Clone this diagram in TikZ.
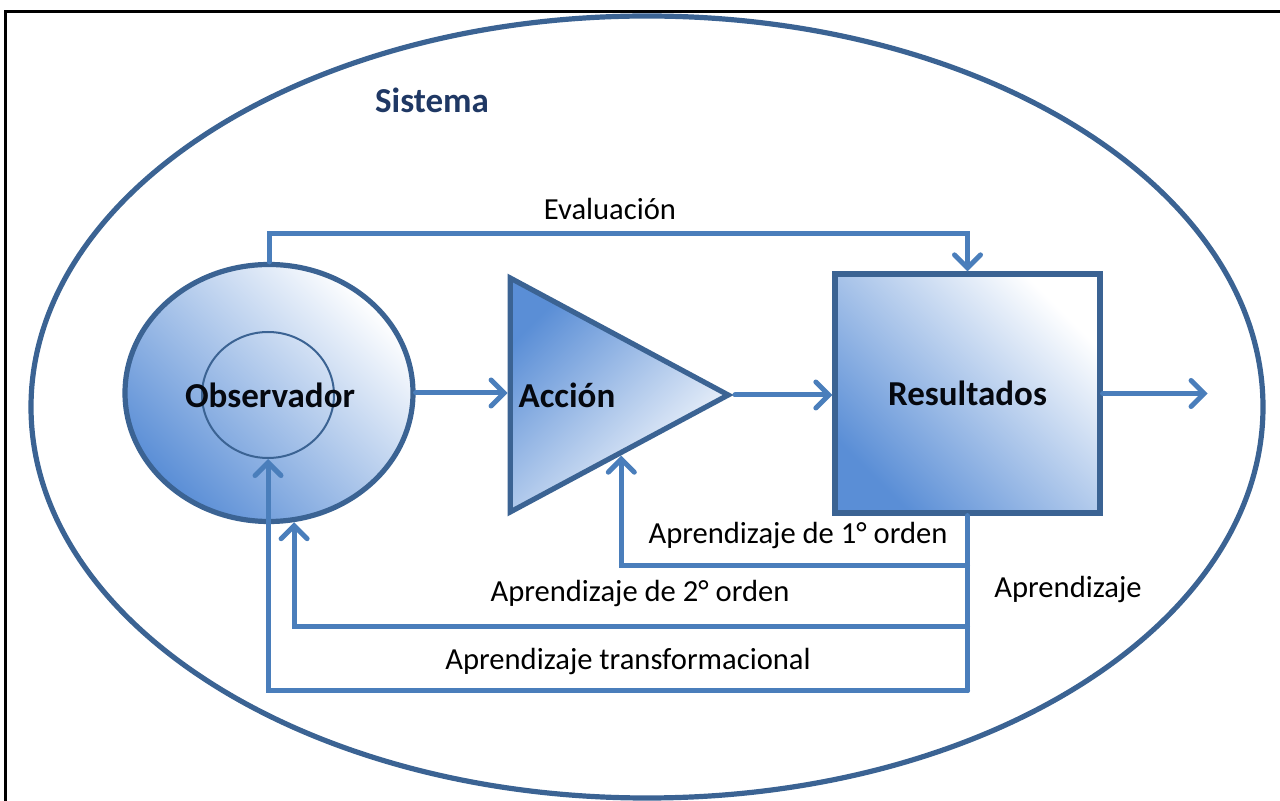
\documentclass[tikz,border=0pt]{standalone}
\usepackage{fontspec}
\setmainfont{Carlito}
\usepackage{xcolor}
\usepackage{tikz}
\usetikzlibrary{shapes.geometric, arrows.meta, positioning, calc}

\definecolor{rimblue}{HTML}{3B6393}
\definecolor{linkblue}{HTML}{4A7EBB}
\definecolor{shadeblue}{HTML}{5A8ED6}
\definecolor{inkblue}{HTML}{1F3864}

\begin{document}
\begin{tikzpicture}[
    x=0.5pt, y=-0.5pt,
    shapebox/.style={draw=rimblue, line width=2.6pt, bottom color=shadeblue, top color=white},
    lbl/.style={font=\fontsize{15.3}{18}\selectfont, inner sep=0pt},
    boldlbl/.style={font=\bfseries\fontsize{17.5}{21}\selectfont, text=black!85!inkblue, inner sep=0pt},
    conn/.style={draw=linkblue, line width=2.5pt, line cap=round},
    arr/.style={conn, -{Straight Barb[length=6.5pt, width=13pt, line cap=round]}},
]
\useasboundingbox (0,0) rectangle (1280,801);
\draw[line width=1.5pt] (5,801) -- (5,12) -- (1280,12);

\node[draw=rimblue, line width=2.6pt, ellipse, minimum width=616pt, minimum height=391pt] (sistema) at (647,407) {};
\node[boldlbl, text=inkblue] (sistema-lbl) at (432,100) {Sistema};

\node[shapebox, shading angle=-45, ellipse, minimum width=144pt, minimum height=128.5pt] (obs) at (269,393) {};
\node[draw=rimblue, line width=1pt, ellipse, minimum width=66pt, minimum height=63pt] (inner) at (268,395) {};
\node[boldlbl] (obs-lbl) at (270,395) {Observador};

\node[shapebox, shading angle=-135, isosceles triangle, isosceles triangle stretches, minimum width=117pt, minimum height=109pt, inner sep=0pt, anchor=apex] (acc) at (735,395) {};
\node[boldlbl] (acc-lbl) at (567,395) {Acción};

\node[shapebox, shading angle=-45, minimum width=132.5pt, minimum height=119.5pt, boldlbl] (res) at (967.5,393.5) {Resultados};
\coordinate[right=52.5pt of res.east] (exit);

\coordinate (eval) at (610,234);
\node[lbl] (eval-lbl) at (610,209) {Evaluación};
\coordinate (apr-end) at ($(res.south)+(0,175)$);

\draw[arr] (obs.east) -- (obs.east -| acc.west);
\draw[arr] (acc.apex) -- (acc.apex -| res.west);
\draw[arr] (res.east) -- (exit);
\draw[arr] (obs.north) |- (eval) -| (res.north);
\draw[conn] (res.south) -- (apr-end);
\draw[arr] ($(res.south)+(0,50)$) -| ($(acc.apex)!0.5!(acc.right corner)$);
\draw[arr] ($(res.south)+(0,111)$) -| (obs.-79);
\draw[arr] (apr-end) -| (inner.south);

\node[lbl] (ord1-lbl) at (798,536) {Aprendizaje de 1° orden};
\node[lbl] (ord2-lbl) at (640,593) {Aprendizaje de 2° orden};
\node[lbl] (trans-lbl) at (628,661) {Aprendizaje transformacional};
\node[lbl] (apr-lbl) at (1068,590) {Aprendizaje};
\end{tikzpicture}
\end{document}
